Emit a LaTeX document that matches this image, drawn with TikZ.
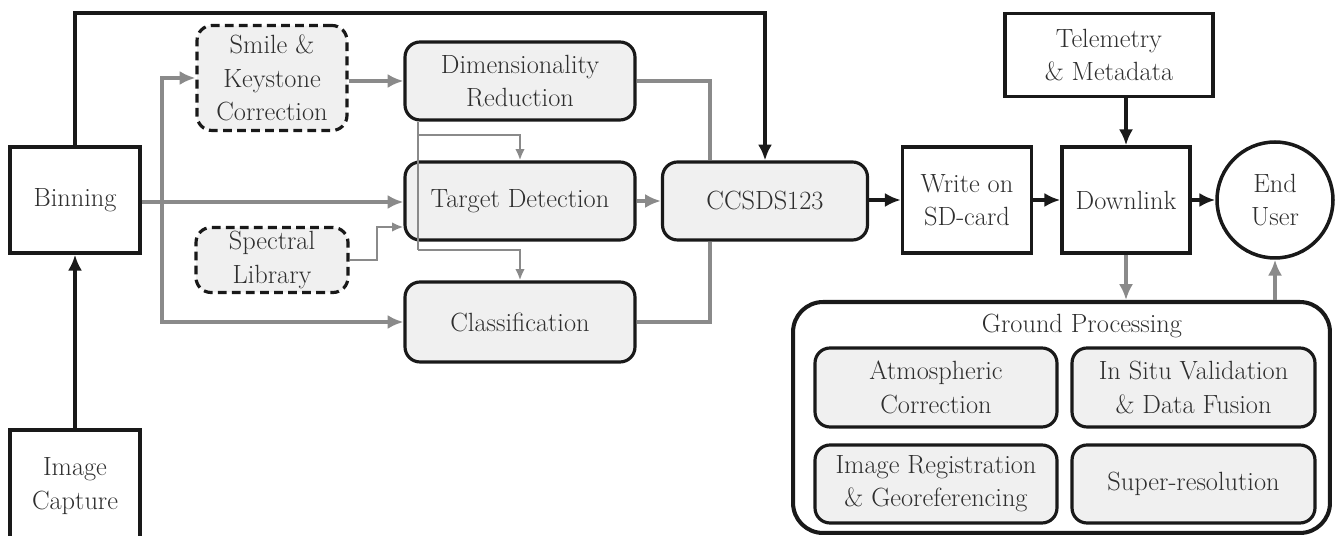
\documentclass[tikz,border=0pt]{standalone}
\usepackage{tikz}
\usetikzlibrary{arrows.meta, positioning, shapes.geometric}
\definecolor{linegray}{HTML}{8A8A8A}
\definecolor{boxfill}{HTML}{F0F0F0}
\definecolor{textgray}{HTML}{2E2E2E}
\tikzstyle{blackarrow} = [line width=2.3pt, draw=black!90, -{Latex[length=9pt,width=8pt]}]
\tikzstyle{grayarrow} = [line width=2.3pt, draw=linegray, -{Latex[length=9pt,width=8pt]}]
\tikzstyle{grayline} = [line width=2.3pt, draw=linegray]
\tikzstyle{thinarrow} = [line width=1.3pt, draw=linegray, -{Latex[length=6.5pt,width=5.5pt]}]
\tikzstyle{thinline} = [line width=1.3pt, draw=linegray]
\tikzstyle{plainbox} = [rectangle, draw=black!90, line width=2pt, fill=white, text=textgray, align=center, font=\fontsize{15}{19}\selectfont, inner sep=0pt]
\tikzstyle{roundbox} = [plainbox, rounded corners=0.3cm, fill=boxfill, line width=1.8pt]
\tikzstyle{dashbox} = [roundbox, dash pattern=on 5pt off 3pt]
\tikzstyle{userbox} = [plainbox, circle]
\tikzstyle{titletext} = [text=textgray, font=\fontsize{15}{19}\selectfont, inner sep=0pt]

\begin{document}
\begin{tikzpicture}[x=0.02cm, y=-0.02cm]
\useasboundingbox (0,0) rectangle (1336,536);

% On-board chain
\node (capture) [plainbox, minimum width=2.6cm, minimum height=2.24cm] at (75,486) {Image\\Capture};
\node (binning) [plainbox, minimum width=2.6cm, minimum height=2.12cm] at (75,200) {Binning};
\node (smile) [dashbox, minimum width=3cm, minimum height=2.1cm] at (272,78) {Smile \&\\Keystone\\Correction};
\node (spectral) [dashbox, minimum width=3.04cm, minimum height=1.3cm] at (272,260) {Spectral\\Library};
\node (dimred) [roundbox, minimum width=4.6cm, minimum height=1.56cm] at (520,81) {Dimensionality\\Reduction};
\node (target) [roundbox, minimum width=4.6cm, minimum height=1.56cm] at (520,201) {Target Detection};
\node (classif) [roundbox, minimum width=4.6cm, minimum height=1.6cm] at (520,322) {Classification};
\node (ccsds) [roundbox, minimum width=4.1cm, minimum height=1.56cm] at (765,201) {CCSDS123};
\node (sdcard) [plainbox, minimum width=2.58cm, minimum height=2.12cm] at (967,200) {Write on\\SD-card};
\node (downlink) [plainbox, minimum width=2.56cm, minimum height=2.12cm] at (1126,200) {Downlink};
\node (telemetry) [plainbox, minimum width=4.16cm, minimum height=1.66cm] at (1109,55) {Telemetry\\\& Metadata};
\node (enduser) [userbox, minimum size=2.32cm] at (1275,200) {End\\User};

% Ground segment
\node (ground) [plainbox, rounded corners=0.6cm, line width=2.3pt, minimum width=10.74cm, minimum height=4.62cm] at (1061.5,417.5) {};
\node (groundtitle) [titletext] at (1082,326) {Ground Processing};
\node (atmos) [roundbox, minimum width=4.84cm, minimum height=1.58cm] at (936,387.5) {Atmospheric\\Correction};
\node (insitu) [roundbox, minimum width=4.86cm, minimum height=1.58cm] at (1193.5,387.5) {In Situ Validation\\\& Data Fusion};
\node (georef) [roundbox, minimum width=4.84cm, minimum height=1.56cm] at (936,484) {Image Registration\\\& Georeferencing};
\node (superres) [roundbox, minimum width=4.86cm, minimum height=1.56cm] at (1193.5,484) {Super-resolution};

% Helper points
\coordinate (toprail) at (0,13);
\coordinate (split) at (162,202);
\coordinate (tapA) at (418,135);
\coordinate (tapB) at (418,250);
\coordinate (specbend) at (377,227);
\coordinate (mergex) at (710,0);

% Black arrows
\draw [blackarrow] (capture) -- (binning);
\draw [blackarrow] (binning.north) -- (binning.north |- toprail) -| (ccsds.north);
\draw [blackarrow] (ccsds.east |- sdcard.west) -- (sdcard.west);
\draw [blackarrow] (sdcard.east) -- (downlink.west);
\draw [blackarrow] (downlink.east) -- (enduser.west);
\draw [blackarrow] (downlink.north |- telemetry.south) -- (downlink.north);

% Gray arrows
\draw [grayarrow] (binning.east |- split) -- (target.west |- split);
\draw [grayarrow] (split) |- (smile.west);
\draw [grayarrow] (split) |- (classif.west);
\draw [grayarrow] (smile.east |- dimred.west) -- (dimred.west);
\draw [grayarrow] (target.east) -- (target.east -| ccsds.west);
\draw [grayline] (dimred.east) -| (ccsds.north -| mergex);
\draw [grayline] (classif.east) -| (ccsds.south -| mergex);
\draw [grayarrow] (downlink.south) -- (downlink.south |- ground.north);
\draw [grayarrow] (enduser.south |- ground.north) -- (enduser.south);

% Thin gray arrows
\draw [thinline] (dimred.south -| tapA) -- (tapB);
\draw [thinarrow] (tapA) -| (target.north);
\draw [thinarrow] (tapB) -| (classif.north);
\draw [thinarrow] (spectral.east) -| (specbend) -- (target.west |- specbend);

\end{tikzpicture}
\end{document}
